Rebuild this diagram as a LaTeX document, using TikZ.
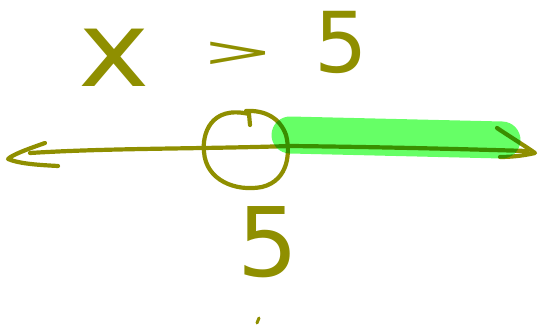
\documentclass[tikz,border=0pt]{standalone}
\usepackage{fontspec}
\setmainfont{DejaVu Sans}
\usetikzlibrary{positioning}
\definecolor{oliva}{RGB}{143,143,0}
\definecolor{resalte}{RGB}{102,255,102}
\begin{document}
\begin{tikzpicture}[
    x=1pt, y=-1pt,
    trazo/.style={draw=oliva, line width=4.2pt, line cap=round, line join=round},
    letra/.style={text=oliva, inner sep=0pt},
    marca/.style={draw=resalte, line width=37pt, line cap=round, blend mode=multiply}
  ]
  \useasboundingbox (0,0) rectangle (541,331);

  % --- la desigualdad ---
  \node[letra, font=\fontsize{105}{105}\selectfont, xscale=1.15] (equis) at (114,58) {x};
  \node[letra, font=\fontsize{70}{70}\selectfont, xscale=1.25, yscale=0.6] (mayor) at (238,54) {>};
  \node[letra, font=\fontsize{84}{84}\selectfont] (cinco) at (341,42) {5};

  % --- recta numérica ---
  \coordinate (izq) at (30,153);
  \coordinate (der) at (527,151);
  \draw[trazo] (izq) .. controls (110,148) and (200,149) .. (290,146)
                     .. controls (380,147) and (460,149) .. (der);
  % puntas dibujadas a mano
  \draw[trazo] (45,143) .. controls (25,150) and (12,155) .. (8,159)
               .. controls (20,164) and (40,165) .. (58,166);
  \draw[trazo] (497,128) .. controls (512,138) and (525,146) .. (535,153)
               .. controls (522,156) and (510,157) .. (500,157);

  % --- círculo abierto en 5 ---
  \coordinate (centro) at (246,150);
  \draw[trazo] (250,125) -- (249,114) .. controls (210,105) and (202,135) .. (204,152)
               .. controls (206,180) and (235,192) .. (262,187)
               .. controls (290,180) and (290,150) .. (286,135)
               .. controls (280,118) and (265,110) .. (246,111);
  \node[letra, font=\fontsize{96}{96}\selectfont, below=56pt of centro, xshift=22pt] (rotulo) {5};

  % --- marca verde de la solución ---
  \draw[marca] (290,135) -- (502,140);

  % --- punto suelto ---
  \draw[trazo, line width=3pt] (257,323) -- (259,318);
\end{tikzpicture}
\end{document}
